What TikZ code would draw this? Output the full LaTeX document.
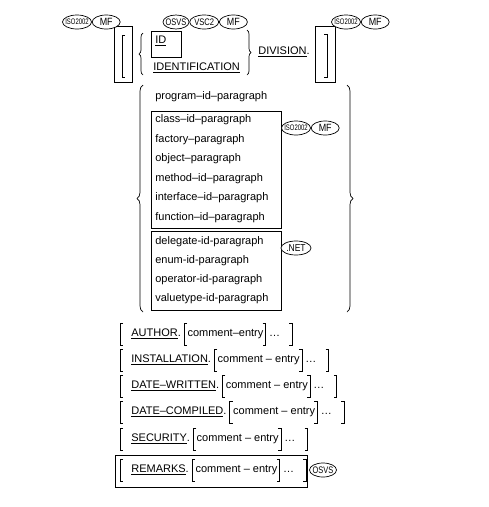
\documentclass[tikz,border=0pt]{standalone}
\usepackage{fontspec}
\setmainfont{Liberation Sans}
\usetikzlibrary{calc,positioning,shapes.geometric,decorations.pathreplacing}
\def\obrk(#1){\draw[brk] ($(#1)+(3,-11)$) -- ++(-3,0) -- ++(0,22) -- ++(3,0);}
\def\cbrk(#1){\draw[brk] ($(#1)+(-3,-11)$) -- ++(3,0) -- ++(0,22) -- ++(-3,0);}
\def\entryrow(#1:#2)#3#4{
	\node[kw] (#1) at (131,#2) {\underline{#3}.};
	\node[kw, right=6pt of #1] (#1ce) {#4};
	\node[kw, right=5pt of #1ce] (#1dots) {…};
	\coordinate (#1a) at (120,#2);
	\coordinate (#1b) at ($(#1ce.west)+(-3,0)$);
	\coordinate (#1c) at ($(#1ce.east)+(2,0)$);
	\coordinate (#1d) at ($(#1dots.east)+(12,0)$);
	\obrk(#1a) \obrk(#1b) \cbrk(#1c) \cbrk(#1d)
}
\tikzset{
	tag/.style={ellipse, draw, fill=white, inner xsep=-14pt, inner ysep=-7pt, minimum height=14pt, line width=0.7pt},
	kw/.style={anchor=west, inner sep=0pt, text height=8pt, text depth=2.5pt, font=\fontsize{11}{13}\selectfont},
	brk/.style={line width=0.7pt},
	brace/.style={line width=0.7pt, decorate, decoration={brace, amplitude=#1}},
}
\newcommand\isotxt{\fontsize{8}{8}\selectfont\scalebox{0.74}[1]{ISO2002}}
\newcommand\mftxt{\fontsize{10.5}{10}\selectfont\scalebox{0.85}[1]{MF}}
\newcommand\osvstxt{\fontsize{9.5}{9}\selectfont\scalebox{0.78}[1]{OSVS}}

\begin{document}
\begin{tikzpicture}[x=1pt, y=-1pt, line width=0.7pt]
		%%%%% START %%%%%
		\useasboundingbox (0,0) rectangle (489,507);
		
		% identification division header
		\draw (114,26) rectangle (132,82);
		\draw (125,35) -- (122,35) -- (122,77) -- (125,77);
		\draw[brace=4pt] (143,75) -- (143,33);
		\draw (151,31) rectangle (181,57);
		\node[kw] (id) at (155,41) {\underline{ID}};
		\node[kw] (ident) at (153,68) {\underline{IDENTIFICATION}};
		\draw[brace=4pt] (247,30) -- (247,75);
		\node[kw] (division) at (258,52) {\underline{DIVISION}.};
		\draw (315,26) rectangle (335,82);
		\draw (324,34) -- (327,34) -- (327,77) -- (324,77);
		
		\node[tag, minimum width=29pt] (isoa) at (77,22) {\isotxt};
		\node[tag, minimum width=28pt, right=0pt of isoa] (mfa) {\mftxt};
		\node[tag, minimum width=26pt] (osvsa) at (176,22) {\osvstxt};
		\node[tag, minimum width=29pt, right=0pt of osvsa] (vsc) {\fontsize{9.5}{9}\selectfont\scalebox{0.8}[1]{VSC2}};
		\node[tag, minimum width=28pt, right=0pt of vsc] (mfb) {\mftxt};
		\node[tag, minimum width=29pt] (isob) at (346,22) {\isotxt};
		\node[tag, minimum width=28pt, right=0pt of isob] (mfc) {\mftxt};
		
		% paragraph choices
		\draw[brace=6pt] (143,312) -- (143,85);
		\draw[brace=6pt] (347,85) -- (347,312);
		\node[kw] (prog) at (155,97) {program–id–paragraph};
		
		\draw (151,111) rectangle (281,228);
		\node[kw] (cls) at (155,120) {class–id–paragraph};
		\node[kw] (fact) at (155,139.5) {factory–paragraph};
		\node[kw] (obj) at (155,159) {object–paragraph};
		\node[kw] (meth) at (155,178.5) {method–id–paragraph};
		\node[kw] (intf) at (155,198) {interface–id–paragraph};
		\node[kw] (func) at (155,217.5) {function–id–paragraph};
		\node[tag, minimum width=29pt] (isoc) at (296,128) {\isotxt};
		\node[tag, minimum width=28pt, right=0pt of isoc] (mfd) {\mftxt};
		
		\draw (151,231) rectangle (281,310);
		\node[kw] (dlg) at (155,242) {delegate-id-paragraph};
		\node[kw] (enm) at (155,261) {enum-id-paragraph};
		\node[kw] (oper) at (155,280) {operator-id-paragraph};
		\node[kw] (valt) at (155,299) {valuetype-id-paragraph};
		\node[tag, minimum width=30pt] (net) at (296,248) {\fontsize{10}{10}\selectfont\scalebox{0.85}[1]{.NET}};
		
		% optional entries
		\entryrow(author:334){AUTHOR}{comment–entry\hspace{3pt}}
		\entryrow(install:360){INSTALLATION}{comment – entry}
		\entryrow(written:386){DATE–WRITTEN}{comment – entry}
		\entryrow(compiled:412){DATE–COMPILED}{comment – entry}
		\entryrow(security:439){SECURITY}{comment – entry}
		
		\draw (115,455) rectangle (307,487);
		\entryrow(remarks:470){REMARKS}{comment – entry}
		\node[tag, minimum width=27pt] (osvsb) at (323,470) {\osvstxt};
		
		%%%%% END %%%%%
\end{tikzpicture}
\end{document}
